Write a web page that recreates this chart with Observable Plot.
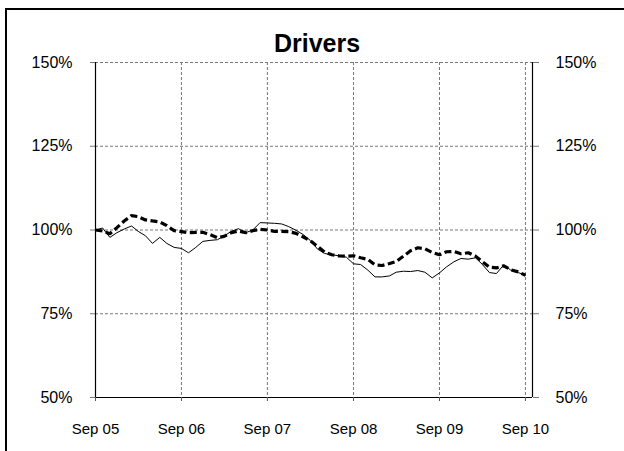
<!DOCTYPE html>
<html>
<head>
<meta charset="utf-8">
<script src="https://cdn.jsdelivr.net/npm/d3@7"></script>
<script src="https://cdn.jsdelivr.net/npm/@observablehq/plot@0.6"></script>
<style>
  html, body { margin: 0; padding: 0; background: #fff; }
  #wrap { position: relative; width: 624px; height: 451px; overflow: hidden; }
  #border { position: absolute; left: 5px; top: 8px; width: 700px; height: 600px; border: 2px solid #000; box-sizing: border-box; pointer-events: none; }
  #chart { position: absolute; left: 0; top: 0; }
</style>
</head>
<body>
<div id="wrap"><div id="chart"></div><div id="border"></div></div>
<script>
const title = "Drivers";
const startMonth = "2005-09-01";
const endMonth = "2010-10-01";
const xTickDates = ["2005-09-01","2006-09-01","2007-09-01","2008-09-01","2009-09-01","2010-09-01"];
const xTickLabels = ["Sep 05","Sep 06","Sep 07","Sep 08","Sep 09","Sep 10"];
const yTicks = [50, 75, 100, 125, 150];
const yTickLabels = ["50%","75%","100%","125%","150%"];

// monthly index values, Sep 05 .. Sep 10
const solidSeries = [
  100.0, 100.6, 97.8, 99.2, 100.3, 101.2, 99.6, 98.3, 96.0, 97.8,
  96.0, 94.8, 94.5, 93.2, 94.8, 96.6, 96.9, 97.1, 98.2, 99.6,
  100.4, 99.2, 100.0, 102.2, 102.1, 102.0, 101.8, 101.0, 99.9, 98.6,
  96.9, 94.3, 93.0, 92.6, 92.3, 91.9, 89.9, 89.7, 88.0, 86.0,
  86.0, 86.3, 87.4, 87.7, 87.6, 87.9, 87.4, 85.7, 87.2, 89.0,
  90.5, 91.5, 91.3, 91.7, 89.8, 87.3, 87.0, 89.6, 88.0, 87.3,
  86.5
];
const dashedSeries = [
  100.0, 99.7, 98.9, 100.7, 102.7, 104.3, 104.0, 103.0, 102.7, 102.4,
  101.3, 99.8, 99.5, 99.2, 99.3, 99.3, 98.6, 97.7, 98.1, 99.2,
  99.7, 99.2, 99.8, 100.2, 100.0, 99.6, 99.6, 99.5, 99.0, 97.9,
  96.8, 95.1, 93.4, 92.6, 92.3, 92.2, 92.3, 91.7, 91.2, 89.6,
  89.4, 90.0, 90.6, 92.2, 93.8, 94.7, 94.4, 93.3, 92.6, 93.5,
  93.6, 92.9, 93.2, 92.2, 90.6, 88.9, 88.7, 89.3, 88.1, 87.5,
  86.5
];

const start = new Date(startMonth);
const end = new Date(endMonth);
const months = d3.utcMonth.range(start, d3.utcMonth.offset(start, solidSeries.length));
const solidData = months.map((d, i) => ({date: d, value: solidSeries[i]}));
const dashedData = months.map((d, i) => ({date: d, value: dashedSeries[i]}));
const xTicks = xTickDates.map(s => new Date(s));
const xLabel = new Map(xTicks.map((d, i) => [+d, xTickLabels[i]]));
const yLabel = new Map(yTicks.map((v, i) => [v, yTickLabels[i]]));

const font = "Liberation Sans, Arial, sans-serif";

const chart = Plot.plot({
  width: 624,
  height: 451,
  marginLeft: 95,
  marginRight: 92,
  marginTop: 62,
  marginBottom: 54,
  style: {fontFamily: font, fontSize: "16px", background: "#fff", color: "#000"},
  x: {type: "utc", domain: [start, end]},
  y: {domain: [yTicks[0], yTicks[yTicks.length - 1]]},
  marks: [
    Plot.gridX(xTicks, {stroke: "#777", strokeOpacity: 1, strokeDasharray: "3,2"}),
    Plot.gridY(yTicks.slice(1), {stroke: "#777", strokeOpacity: 1, strokeDasharray: "3,2"}),
    Plot.ruleX([start, end], {stroke: "#000", strokeWidth: 1.2}),
    Plot.ruleY([yTicks[0]], {stroke: "#000", strokeWidth: 1.2}),
    Plot.axisY({ticks: yTicks, anchor: "left", tickSize: 5, tickPadding: 18, tickFormat: v => yLabel.get(v), fontSize: 16, label: null, stroke: "#777"}),
    Plot.axisY({ticks: yTicks, anchor: "right", tickSize: 6, tickPadding: 17, tickFormat: v => yLabel.get(v), fontSize: 16, label: null, stroke: "#777"}),
    Plot.axisX({ticks: xTicks, anchor: "bottom", tickSize: 4, tickPadding: 22, tickFormat: d => xLabel.get(+d), fontSize: 15, label: null, stroke: "#555"}),
    Plot.line(solidData, {x: "date", y: "value", stroke: "#000", strokeWidth: 1, strokeLinejoin: "miter"}),
    Plot.line(dashedData, {x: "date", y: "value", stroke: "#000", strokeWidth: 3.2, strokeDasharray: "7,3.5", strokeLinecap: "butt", strokeLinejoin: "miter"}),
    Plot.text([title], {frameAnchor: "top", lineAnchor: "bottom", dy: -11, dx: 3, fontSize: 25, fontWeight: "bold", fill: "#000"})
  ]
});
document.getElementById("chart").appendChild(chart);
</script>
</body>
</html>
